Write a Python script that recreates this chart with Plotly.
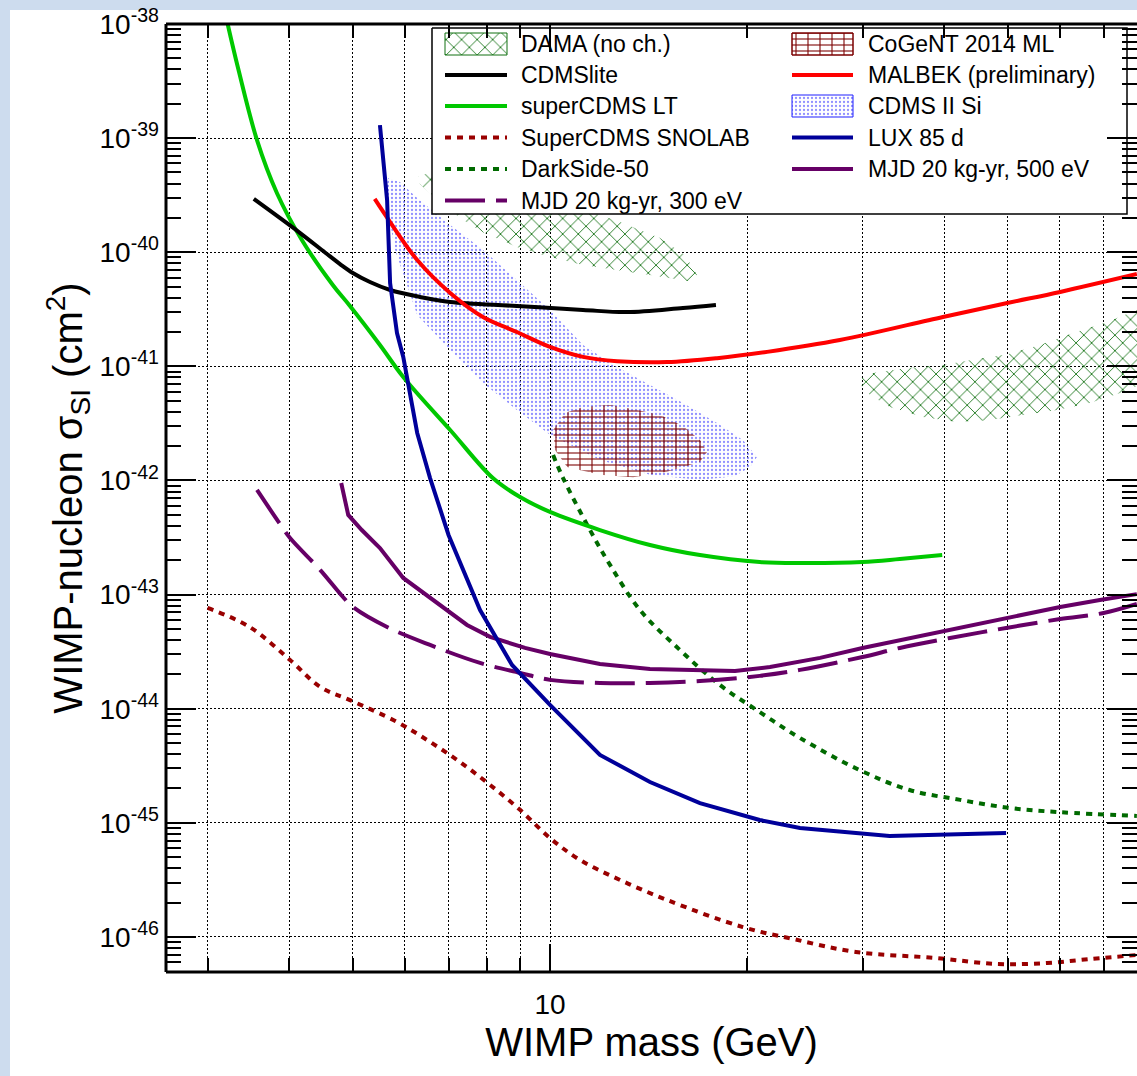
import plotly.graph_objects as go

# ---------------- data (WIMP mass in GeV, cross-section in cm^2) ----------------
cdmslite_m = [3.53, 4.15, 4.53, 4.78, 5.0, 5.31, 5.70, 6.33, 7.04, 8.90, 11.23, 13.11, 15.96, 17.92]
cdmslite_s = [2.93e-40, 1.48e-40, 1.00e-40, 7.88e-41, 6.58e-41, 5.48e-41, 4.67e-41, 4.06e-41, 3.66e-41,
              3.38e-41, 3.12e-41, 2.99e-41, 3.25e-41, 3.45e-41]

scdms_lt_m = [3.22, 3.34, 3.57, 3.83, 4.18, 4.66, 4.95, 5.50, 5.97, 7.04, 8.18, 9.0, 10.0,
              11.92, 14.21, 16.94, 20.9, 24.08, 30.0, 34.2, 39.7]
scdms_lt_s = [1.0e-38, 4.11e-39, 9.6e-40, 3.29e-40, 1.28e-40, 5.16e-41, 3.38e-41,
              1.54e-41, 8.07e-42, 2.77e-42, 1.05e-42, 7.16e-43, 5.30e-43, 3.68e-43, 2.72e-43, 2.22e-43,
              1.93e-43, 1.89e-43, 1.93e-43, 2.05e-43, 2.22e-43]

snolab_m = [3.0, 3.48, 4.01, 4.46, 4.95, 5.84, 6.56, 7.29, 8.10, 9.0, 10.0, 11.11, 12.79, 15.09,
            19.7, 23.5, 29.3, 38.7, 48.1, 57.4, 66.7, 78.7]
snolab_s = [7.64e-44, 5.20e-44, 2.67e-44, 1.55e-44, 1.19e-44, 7.66e-45, 5.12e-45, 3.41e-45, 2.15e-45,
            1.30e-45, 7.36e-46, 4.73e-46, 3.16e-46, 2.11e-46, 1.22e-46, 9.6e-47, 7.39e-47, 6.55e-47,
            5.80e-47, 5.91e-47, 6.41e-47, 6.95e-47]

darkside_m = [10.11, 10.47, 11.51, 12.35, 13.72, 15.79, 18.18, 20.9, 24.08, 29.7, 35.4, 42.3, 50.4, 60.1, 78.7]
darkside_s = [1.67e-42, 1.05e-42, 3.68e-43, 1.82e-43, 7.33e-44, 3.27e-44, 1.61e-44, 9.36e-45, 5.54e-45,
              2.90e-45, 1.94e-45, 1.59e-45, 1.35e-45, 1.24e-45, 1.15e-45]

mjd300_m = [3.57, 3.86, 4.01, 4.46, 4.83, 5.0, 5.64, 6.56, 7.82, 9.0, 10.0, 11.92, 14.21, 16.94, 20.9,
            24.08, 30.0, 34.2, 40.8, 49.7, 60.1, 70.0, 78.7]
mjd300_s = [8.26e-43, 4.25e-43, 3.13e-43, 1.64e-43, 9.53e-44, 7.80e-44, 5.20e-44, 3.62e-44, 2.52e-44,
            2.06e-44, 1.79e-44, 1.68e-44, 1.68e-44, 1.75e-44, 1.94e-44, 2.19e-44, 2.84e-44, 3.41e-44,
            4.17e-44, 5.10e-44, 6.11e-44, 6.90e-44, 8.28e-44]

malbek_m = [5.40, 5.70, 6.27, 7.04, 7.90, 8.90, 10.0, 11.23, 12.66, 15.09, 17.99, 21.45, 27.7, 39.8,
            49.9, 60.1, 78.7]
malbek_s = [2.93e-40, 1.84e-40, 8.55e-41, 4.40e-41, 2.71e-41, 2.00e-41, 1.48e-41, 1.21e-41, 1.11e-41,
            1.09e-41, 1.18e-41, 1.34e-41, 1.70e-41, 2.71e-41, 3.59e-41, 4.49e-41, 6.44e-41]

lux_m = [5.50, 5.54, 5.64, 5.70, 5.84, 5.97, 6.07, 6.27, 6.56, 7.0, 7.82, 8.75, 10.0, 11.92, 14.21,
         16.94, 20.9, 24.08, 33.0, 39.7, 49.7]
lux_s = [1.30e-39, 7.87e-40, 2.87e-40, 5.38e-41, 1.96e-41, 1.21e-41, 7.15e-42, 2.61e-42, 1.05e-42,
         3.33e-43, 7.33e-44, 2.42e-44, 1.08e-44, 3.94e-45, 2.28e-45, 1.49e-45, 1.06e-45, 9.02e-46,
         7.67e-46, 7.83e-46, 8.15e-46]

mjd500_m = [4.80, 4.92, 5.16, 5.50, 5.97, 6.56, 7.47, 8.10, 9.16, 10.0, 11.92, 14.21, 16.94, 19.16,
            21.67, 25.84, 30.0, 34.2, 40.8, 50.4, 60.1, 69.1, 78.7]
mjd500_s = [9.5e-43, 4.99e-43, 3.68e-43, 2.56e-43, 1.40e-43, 9.34e-44, 5.42e-44, 4.26e-44, 3.41e-44,
            3.02e-44, 2.47e-44, 2.23e-44, 2.19e-44, 2.14e-44, 2.32e-44, 2.79e-44, 3.41e-44, 4.00e-44,
            4.90e-44, 6.37e-44, 7.80e-44, 8.98e-44, 1.01e-43]

# closed contours
dama_low_m = [6.29, 6.63, 7.55, 9.0, 10.73, 12.79, 14.72, 16.07, 16.77,
              16.25, 14.21, 12.66, 11.23, 10.0, 8.90, 7.90, 7.29, 6.63, 6.33, 6.29]
dama_low_s = [4.56e-40, 5.15e-40, 5.05e-40, 3.51e-40, 2.59e-40, 1.84e-40, 1.33e-40, 9.46e-41, 6.32e-41,
              5.60e-41, 6.32e-41, 6.99e-41, 7.73e-41, 9.08e-41, 1.11e-40, 1.50e-40, 2.00e-40, 3.11e-40,
              3.96e-40, 4.56e-40]

dama_high_m = [29.4, 31.1, 35.1, 39.8, 44.2, 49.9, 56.0, 62.9, 70.9, 78.7, 85.4,
               85.4, 78.7, 75.0, 66.7, 59.4, 52.7, 47.0, 41.8, 37.1, 33.0, 30.5, 29.4]
dama_high_s = [7.60e-42, 8.75e-42, 9.68e-42, 1.03e-41, 1.14e-41, 1.28e-41, 1.54e-41, 1.96e-41, 2.45e-41,
               3.12e-41, 3.66e-41, 7.91e-42, 6.73e-42, 5.96e-42, 4.77e-42, 4.15e-42, 3.75e-42, 3.39e-42,
               3.26e-42, 3.60e-42, 4.41e-42, 5.85e-42, 7.60e-42]

cdms_si_m = [5.66, 5.90, 6.27, 7.04, 7.90, 8.90, 10.0, 11.23, 12.66, 14.21, 15.96, 17.99, 19.7, 20.7,
             20.2, 19.16, 16.94, 14.21, 11.92, 10.0, 8.90, 7.90, 7.04, 6.27, 5.80, 5.60, 5.66]
cdms_si_s = [4.48e-40, 4.13e-40, 2.99e-40, 1.73e-40, 1.05e-40, 5.71e-41, 3.12e-41, 1.54e-41, 9.86e-42,
             6.87e-42, 4.78e-42, 3.19e-42, 2.26e-42, 1.61e-42, 1.31e-42, 1.09e-42, 1.01e-42, 1.12e-42,
             1.51e-42, 2.51e-42, 4.15e-42, 7.15e-42, 1.39e-41, 2.82e-41, 1.05e-40, 3.18e-40, 4.48e-40]

cogent_m = [10.11, 10.54, 11.23, 12.35, 13.39, 14.72, 15.96, 16.94, 17.37, 16.94, 15.09, 13.39, 11.92,
            10.62, 10.18, 10.11]
cogent_s = [2.77e-42, 3.90e-42, 4.41e-42, 4.58e-42, 4.23e-42, 3.75e-42, 3.00e-42, 2.26e-42, 1.78e-42,
            1.45e-42, 1.19e-42, 1.07e-42, 1.12e-42, 1.31e-42, 1.85e-42, 2.77e-42]

# axis ticks
y_decades = [-46, -45, -44, -43, -42, -41, -40, -39, -38]
x_major = [10]
x_minor = [3, 4, 5, 6, 7, 8, 9, 20, 30, 40, 50, 60, 70]

# legend entries (column 1 then column 2)
legend_col1 = ["DAMA (no ch.)", "CDMSlite", "superCDMS LT", "SuperCDMS SNOLAB", "DarkSide-50",
               "MJD 20 kg-yr, 300 eV"]
legend_col2 = ["CoGeNT 2014 ML", "MALBEK (preliminary)", "CDMS II Si", "LUX 85 d", "MJD 20 kg-yr, 500 eV"]

# ---------------- styles ----------------
FONT = "Liberation Sans, Arial, Helvetica, sans-serif"
C_DAMA = "#117011"
C_COGENT = "#7a0000"
C_SI = "#6a6aff"
C_BLACK = "#000000"
C_GREEN = "#00c800"
C_SNOLAB = "#990000"
C_DS = "#006a00"
C_MJD = "#660066"
C_RED = "#ff0000"
C_LUX = "#00009a"
LW = 4

W, H = 1137, 1076
L, R, T, B = 166, 0, 24, 104
X_LOG_RANGE = [0.41374, 1.89618]
Y_LOG_RANGE = [-46.307, -38.0]

fig = go.Figure()

def region(m, s, name, pattern):
    fig.add_trace(go.Scatter(x=m, y=s, name=name, mode="none", fill="toself",
                             fillcolor="rgba(0,0,0,0)", fillpattern=pattern,
                             showlegend=False, hoverinfo="name"))

def curve(m, s, name, color, dash="solid", shape="spline"):
    fig.add_trace(go.Scatter(x=m, y=s, name=name, mode="lines",
                             line=dict(color=color, width=LW, dash=dash, shape=shape,
                                       smoothing=1.0 if shape == "spline" else None),
                             showlegend=False))

P_SI = dict(shape=".", fgcolor=C_SI, bgcolor="rgba(0,0,0,0)", size=4, solidity=0.25,
            fgopacity=0.75, fillmode="overlay")
P_DAMA = dict(shape="x", fgcolor=C_DAMA, bgcolor="rgba(0,0,0,0)", size=11, solidity=0.15,
              fgopacity=1, fillmode="overlay")
P_COG_H = dict(shape="-", fgcolor=C_COGENT, bgcolor="rgba(0,0,0,0)", size=6, solidity=0.18,
               fgopacity=1, fillmode="overlay")
P_COG_V = dict(shape="|", fgcolor=C_COGENT, bgcolor="rgba(0,0,0,0)", size=12, solidity=0.09,
               fgopacity=1, fillmode="overlay")

region(cdms_si_m, cdms_si_s, "CDMS II Si", P_SI)
region(dama_low_m, dama_low_s, "DAMA (no ch.)", P_DAMA)
region(dama_high_m, dama_high_s, "DAMA (no ch.)", P_DAMA)
region(cogent_m, cogent_s, "CoGeNT 2014 ML", P_COG_H)
region(cogent_m, cogent_s, "CoGeNT 2014 ML", P_COG_V)

curve(snolab_m, snolab_s, "SuperCDMS SNOLAB", C_SNOLAB, dash="6px,6px")
curve(darkside_m, darkside_s, "DarkSide-50", C_DS, dash="6px,6px")
curve(mjd300_m, mjd300_s, "MJD 20 kg-yr, 300 eV", C_MJD, dash="40px,11px")
curve(mjd500_m, mjd500_s, "MJD 20 kg-yr, 500 eV", C_MJD, shape="linear")
curve(scdms_lt_m, scdms_lt_s, "superCDMS LT", C_GREEN)
curve(cdmslite_m, cdmslite_s, "CDMSlite", C_BLACK)
curve(malbek_m, malbek_s, "MALBEK (preliminary)", C_RED)
curve(lux_m, lux_s, "LUX 85 d", C_LUX, shape="linear")

# ---------------- legend (drawn on a pixel-space overlay axis) ----------------
LEG_BOX = (432, 28, 1127, 214)
COL_X = [(445, 507, 519), (792, 853, 866)]
ROW_Y = [44, 75, 106, 137.5, 169, 200.5]

def px_trace(xs, ys, **kw):
    fig.add_trace(go.Scatter(x=xs, y=ys, xaxis="x2", yaxis="y2", showlegend=False,
                             hoverinfo="skip", **kw))

x0, y0, x1, y1 = LEG_BOX
px_trace([x0, x1, x1, x0, x0], [y0, y0, y1, y1, y0], mode="lines", fill="toself",
         fillcolor="white", line=dict(color="black", width=1.5))

def leg_patch(col, row, patterns, edge):
    a, b, _ = COL_X[col]
    yc = ROW_Y[row]
    for p in patterns:
        px_trace([a, b, b, a, a], [yc - 11, yc - 11, yc + 11, yc + 11, yc - 11], mode="lines",
                 fill="toself", fillcolor="rgba(0,0,0,0)", fillpattern=p,
                 line=dict(color=edge, width=1))

def leg_line(col, row, color, dash="solid"):
    a, b, _ = COL_X[col]
    yc = ROW_Y[row]
    px_trace([a, b], [yc, yc], mode="lines", line=dict(color=color, width=LW, dash=dash))

leg_patch(0, 0, [P_DAMA], C_DAMA)
leg_line(0, 1, C_BLACK)
leg_line(0, 2, C_GREEN)
leg_line(0, 3, C_SNOLAB, "6px,6px")
leg_line(0, 4, C_DS, "6px,6px")
leg_line(0, 5, C_MJD, "40px,11px")
leg_patch(1, 0, [P_COG_H, P_COG_V], C_COGENT)
leg_line(1, 1, C_RED)
leg_patch(1, 2, [P_SI], "#2020ff")
leg_line(1, 3, C_LUX)
leg_line(1, 4, C_MJD)

annotations = []
for col, labels in enumerate([legend_col1, legend_col2]):
    for row, lab in enumerate(labels):
        annotations.append(dict(x=COL_X[col][2], y=ROW_Y[row], xref="x2", yref="y2", text=lab,
                                showarrow=False, xanchor="left", yanchor="middle",
                                font=dict(family=FONT, size=23, color="black")))

# ---------------- axes ----------------
y_minor = [k * 10.0 ** d for d in range(-47, -38) for k in range(2, 10)]
GRID = dict(showgrid=True, gridcolor="black", gridwidth=1.3, griddash="2px,2px")

fig.update_layout(
    width=W, height=H,
    margin=dict(l=L, r=R, t=T, b=B, autoexpand=False),
    paper_bgcolor="#cddcee",
    plot_bgcolor="white",
    showlegend=False,
    font=dict(family=FONT, color="black"),
    annotations=annotations,
    xaxis=dict(
        type="log", range=X_LOG_RANGE, tickmode="array", tickvals=x_major,
        ticktext=[str(v) for v in x_major], ticks="inside", ticklen=28, tickwidth=2,
        tickcolor="black", mirror="ticks", showline=False, zeroline=False,
        tickfont=dict(size=28, family=FONT), ticklabelstandoff=13,
        title=dict(text="WIMP mass (GeV)", font=dict(size=40, family=FONT), standoff=0),
        minor=dict(tickmode="array", tickvals=x_minor, ticks="inside", ticklen=14,
                   tickwidth=1.5, tickcolor="black", **GRID),
        **GRID,
    ),
    yaxis=dict(
        type="log", range=Y_LOG_RANGE, tickmode="array",
        tickvals=[10.0 ** d for d in y_decades],
        ticktext=["10<sup>%d</sup>" % d for d in y_decades],
        ticks="inside", ticklen=30, tickwidth=2, tickcolor="black", mirror="ticks",
        showline=False, zeroline=False, tickfont=dict(size=28, family=FONT), ticklabelstandoff=6,
        title=dict(text="WIMP-nucleon σ<sub>SI</sub> (cm<sup>2</sup>)",
                   font=dict(size=40, family=FONT), standoff=4),
        minor=dict(tickmode="array", tickvals=y_minor, ticks="inside", ticklen=15,
                   tickwidth=1.5, tickcolor="black", showgrid=False),
        **GRID,
    ),
    xaxis2=dict(overlaying="x", anchor="y2", range=[L, W - R], visible=False, fixedrange=True),
    yaxis2=dict(overlaying="y", anchor="x2", range=[H - B, T], visible=False, fixedrange=True),
    shapes=[
        # white page area (light-blue frame only at the left and top edges)
        dict(type="rect", xref="paper", yref="paper", x0=(10 - L) / (W - L - R), x1=1.05,
             y0=-0.2, y1=(H - B - 10) / (H - B - T), fillcolor="white", line=dict(width=0),
             layer="below"),
        # axis frame (left, bottom, top)
        dict(type="line", xref="paper", yref="paper", x0=0, x1=0, y0=0, y1=1,
             line=dict(color="black", width=3), layer="above"),
        dict(type="line", xref="paper", yref="paper", x0=0, x1=1, y0=0, y1=0,
             line=dict(color="black", width=3), layer="above"),
        dict(type="line", xref="paper", yref="paper", x0=0, x1=1, y0=1, y1=1,
             line=dict(color="black", width=3), layer="above"),
    ],
)

fig.write_html("out.html")
